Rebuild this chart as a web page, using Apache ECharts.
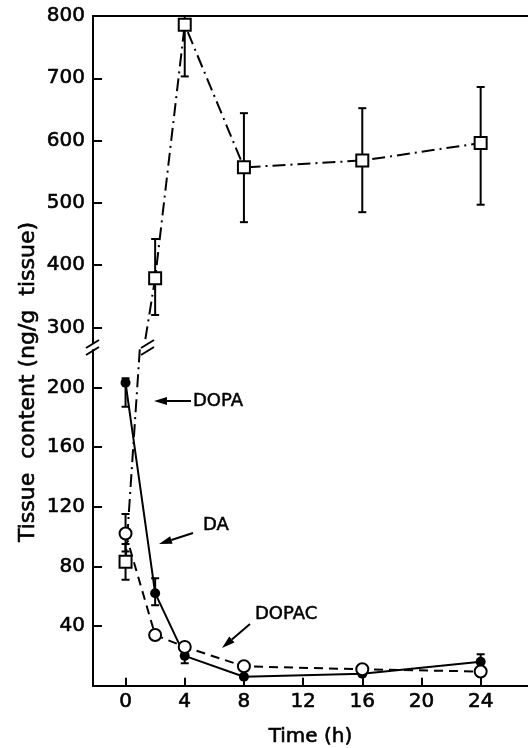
<!DOCTYPE html>
<html style="height: 100%">

<head>
  <meta charset="UTF-8" />
  <title>Tissue content over time</title>
  <script src="https://cdn.jsdelivr.net/npm/echarts@6/dist/echarts.min.js"></script>
</head>

<body style="height: 100%; margin: 0; background: #fff">
  <div id="main" style="width: 528px; height: 748px"></div>
  <script>
    // time points (h)
    const hours = [0, 2, 4, 8, 16, 24];
    // tissue content, ng/g tissue
    const dopa = [83, 379, 786, 557, 568, 596];
    const da = [203, 62, 20, 6, 8, 16];
    const dopac = [102, 34, 26, 13, 11, 9.5];
    // error bars [time, low, high]
    const dopaErr = [[0, 71, 95], [2, 320, 442], [4, 703, 800], [8, 469, 644], [16, 485, 652], [24, 497, 686]];
    const daErr = [[0, 187, 206], [2, 54, 72], [4, 15, 23], [24, 12, 21]];
    const dopacErr = [[0, 90, 115], [2, 31, 37]];
    // tick labels
    const xTicks = [0, 4, 8, 12, 16, 20, 24];
    const yTopTicks = [300, 400, 500, 600, 700, 800];
    const yBottomTicks = [40, 80, 120, 160, 200];

    const chart = echarts.init(document.getElementById('main'));
    const FONT = 'DejaVu Sans';
    const pairs = (ys) => hours.map((h, i) => [h, ys[i]]);

    function errBar(params, api) {
      const x = api.value(0);
      const lo = api.coord([x, api.value(1)]);
      const hi = api.coord([x, api.value(2)]);
      const w = 4;
      const style = { stroke: '#000', lineWidth: 2 };
      return {
        type: 'group',
        children: [
          { type: 'line', shape: { x1: lo[0], y1: lo[1], x2: hi[0], y2: hi[1] }, style },
          { type: 'line', shape: { x1: lo[0] - w, y1: lo[1], x2: lo[0] + w, y2: lo[1] }, style },
          { type: 'line', shape: { x1: hi[0] - w, y1: hi[1], x2: hi[0] + w, y2: hi[1] }, style },
        ],
      };
    }

    // a thin outline makes the text as heavy as the printed figure
    const axisText = { color: '#000', fontFamily: FONT, fontSize: 20, textBorderColor: '#000', textBorderWidth: 0.6 };
    const blackLine = { show: true, onZero: false, lineStyle: { color: '#000', width: 2 } };

    function yAxis(grid, min, max, ticks) {
      return {
        type: 'value', gridIndex: grid, min: min, max: max,
        axisLine: blackLine,
        axisTick: { inside: true, length: 9, customValues: ticks, lineStyle: { color: '#000', width: 2 } },
        axisLabel: Object.assign({ margin: 8, customValues: ticks }, axisText),
        splitLine: { show: false },
      };
    }

    function arrow(x1, y1, x2, y2) {
      const a = Math.atan2(y2 - y1, x2 - x1);
      const L = 13, W = 4;
      const bx = x2 - L * Math.cos(a), by = y2 - L * Math.sin(a);
      const nx = -Math.sin(a) * W, ny = Math.cos(a) * W;
      return [
        { type: 'line', shape: { x1: x1, y1: y1, x2: bx, y2: by }, style: { stroke: '#000', lineWidth: 2 } },
        { type: 'polygon', shape: { points: [[x2, y2], [bx + nx, by + ny], [bx - nx, by - ny]] }, style: { fill: '#000' } },
      ];
    }

    function slash(cx, cy) {
      const s = { stroke: '#000', lineWidth: 2 };
      return [
        { type: 'rect', shape: { x: cx - 5, y: cy - 5, width: 10, height: 10 }, style: { fill: '#fff' } },
        { type: 'line', shape: { x1: cx - 7, y1: cy + 1, x2: cx + 6, y2: cy - 7 }, style: s },
        { type: 'line', shape: { x1: cx - 7, y1: cy + 8, x2: cx + 6, y2: cy }, style: s },
      ];
    }

    const label = (text, x, y) => ({
      type: 'text', x: x, y: y,
      style: {
        text: text, fill: '#000', font: '18px "DejaVu Sans"', verticalAlign: 'middle',
        stroke: '#000', lineWidth: 0.5,
      },
    });

    const markerStyle = { color: '#fff', borderColor: '#000', borderWidth: 2 };

    const option = {
      animation: false,
      grid: [
        { left: 93, right: 0, top: 16, height: 327 },
        { left: 93, right: 0, top: 350, bottom: 53 },
      ],
      xAxis: [
        {
          type: 'value', gridIndex: 0, min: -2.2, max: 27.2, position: 'top',
          axisLine: blackLine, axisTick: { show: false }, axisLabel: { show: false }, splitLine: { show: false },
        },
        {
          type: 'value', gridIndex: 1, min: -2.2, max: 27.2,
          name: 'Time (h)', nameLocation: 'middle', nameGap: 41,
          nameTextStyle: axisText,
          axisLine: blackLine,
          axisTick: { inside: true, length: 8, customValues: xTicks, lineStyle: { color: '#000', width: 2 } },
          axisLabel: Object.assign({ margin: 6, customValues: xTicks }, axisText),
          splitLine: { show: false },
        },
      ],
      yAxis: [
        yAxis(0, 275, 800, yTopTicks),
        yAxis(1, 0, 225, yBottomTicks),
      ],
      series: [
        {
          name: 'DOPA', type: 'line', xAxisIndex: 0, yAxisIndex: 0, data: pairs(dopa), clip: true,
          symbol: 'rect', symbolSize: 12,
          lineStyle: { color: '#000', width: 2, type: [13, 5, 2, 5] },
          itemStyle: markerStyle, z: 3,
        },
        {
          name: 'DOPA', type: 'line', xAxisIndex: 1, yAxisIndex: 1, data: pairs(dopa), clip: true,
          symbol: 'rect', symbolSize: 12,
          lineStyle: { color: '#000', width: 2, type: [13, 5, 2, 5] },
          itemStyle: markerStyle, z: 3,
        },
        {
          name: 'DA', type: 'line', xAxisIndex: 1, yAxisIndex: 1, data: pairs(da), clip: true,
          symbol: 'circle', symbolSize: 10,
          lineStyle: { color: '#000', width: 2 },
          itemStyle: { color: '#000' }, z: 4,
        },
        {
          name: 'DOPAC', type: 'line', xAxisIndex: 1, yAxisIndex: 1, data: pairs(dopac), clip: true,
          symbol: 'circle', symbolSize: 12,
          lineStyle: { color: '#000', width: 2, type: [9, 6] },
          itemStyle: markerStyle, z: 5,
        },
        { type: 'custom', xAxisIndex: 0, yAxisIndex: 0, data: dopaErr, renderItem: errBar, clip: true, z: 1 },
        { type: 'custom', xAxisIndex: 1, yAxisIndex: 1, data: dopaErr, renderItem: errBar, clip: true, z: 1 },
        { type: 'custom', xAxisIndex: 1, yAxisIndex: 1, data: daErr, renderItem: errBar, clip: true, z: 1 },
        { type: 'custom', xAxisIndex: 1, yAxisIndex: 1, data: dopacErr, renderItem: errBar, clip: true, z: 1 },
      ],
    };

    chart.setOption(option);

    // annotations, axis title and axis-break marks
    const elements = [
      {
        type: 'text', x: 28, y: 382, rotation: Math.PI / 2,
        style: {
          text: 'Tissue  content (ng/g  tissue)', fill: '#000', font: '22px "DejaVu Sans"',
          align: 'center', verticalAlign: 'middle', stroke: '#000', lineWidth: 0.6,
        },
      },
      label('DOPA', 193, 401),
      label('DA', 203, 525),
      label('DOPAC', 255, 614),
    ]
      .concat(arrow(191, 401, 154, 401))
      .concat(arrow(193, 533, 159, 544))
      .concat(arrow(250, 624, 222, 648))
      .concat(slash(93, 347))
      .concat(slash(148, 347));

    chart.setOption({ graphic: { elements: elements } });
  </script>
</body>

</html>
